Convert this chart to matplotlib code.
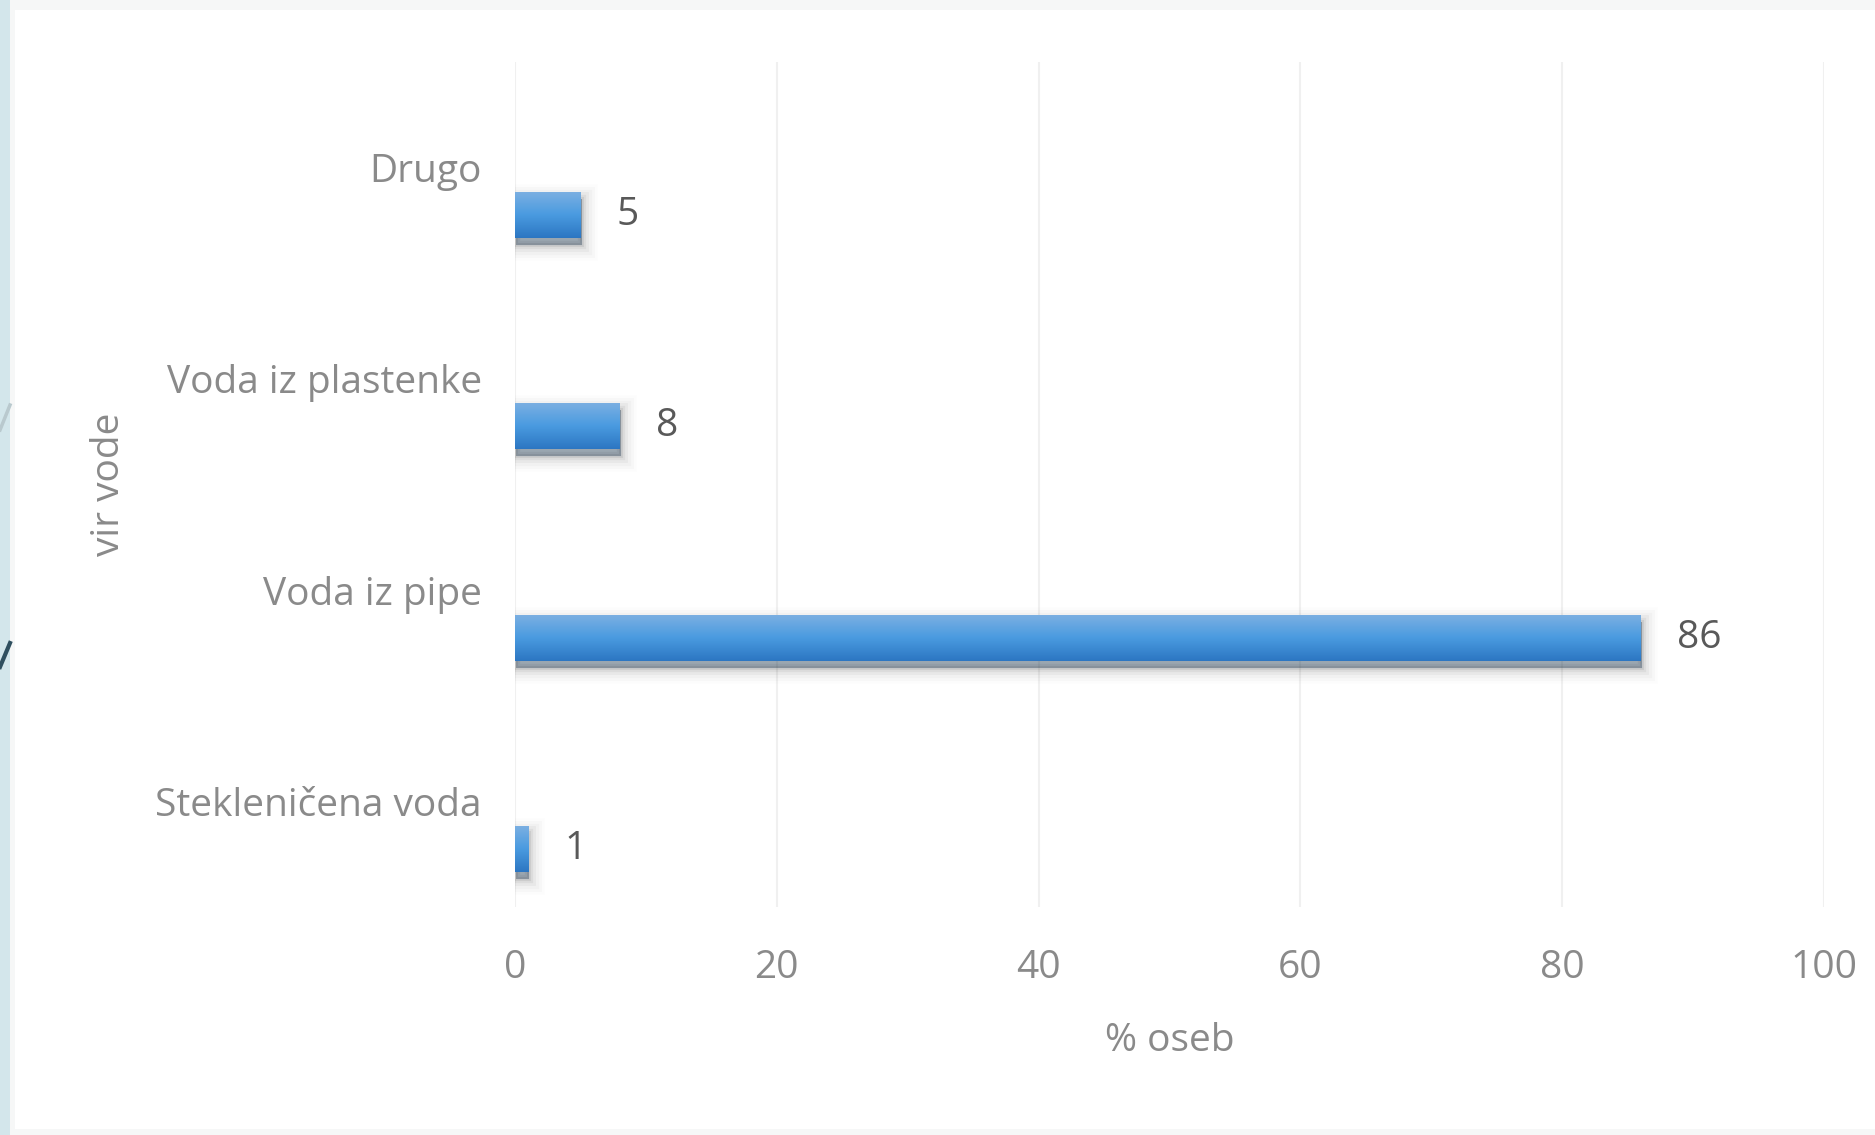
import matplotlib
matplotlib.use("Agg")
import matplotlib.pyplot as plt
import matplotlib.patheffects as pe
from matplotlib.patches import Rectangle
from matplotlib.lines import Line2D
from matplotlib.colors import LinearSegmentedColormap
import numpy as np

# ---- data ----
categories = ["Stekleničena voda", "Voda iz pipe", "Voda iz plastenke", "Drugo"]
values = [1, 86, 8, 5]
x_ticks = [0, 20, 40, 60, 80, 100]
x_label = "% oseb"
y_label = "vir vode"

plt.rcParams['font.family'] = ['Open Sans', 'DejaVu Sans']
FS = 28

W, H = 1875, 1135
fig = plt.figure(figsize=(W / 100, H / 100), dpi=100)
fig.patch.set_facecolor('#F6F7F7')

# white panel
fig.patches.append(Rectangle((15 / W, 1 - 1129 / H), 1 - 15 / W, (1129 - 10) / H,
                             transform=fig.transFigure, facecolor='white',
                             edgecolor='none', zorder=-3))
# left blue strip with decoration
fig.patches.append(Rectangle((0, 0), 10 / W, 1, transform=fig.transFigure,
                             facecolor='#D3E6EB', edgecolor='none', zorder=-3))
fig.lines.append(Line2D([0, 10 / W], [1 - 430 / H, 1 - 405 / H], transform=fig.transFigure,
                        color='#B9C9CE', lw=2.5, zorder=-2))
fig.lines.append(Line2D([0, 10 / W], [1 - 667 / H, 1 - 643 / H], transform=fig.transFigure,
                        color='#2F4F5F', lw=3, zorder=-2))

ax = fig.add_axes([515 / W, 1 - 907 / H, (1824 - 515) / W, (907 - 62) / H])
ax.set_facecolor('none')

bar_h = 0.218
offset = 0.225
ypos = np.arange(len(categories))
bars = ax.barh(ypos - offset, values, height=bar_h, color='#4A98DE', zorder=3)

cmap = LinearSegmentedColormap.from_list('g', ['#2C76C2', '#4A9BE0', '#7DB0E2'])
grad = np.linspace(0, 1, 256).reshape(-1, 1)
shadow_off = (1, -5)
effects = []
for lw_, a_ in [(22, 0.012), (18, 0.018), (14, 0.025), (10, 0.035), (6, 0.05), (3, 0.07)]:
    effects.append(pe.Stroke(offset=shadow_off, linewidth=lw_, foreground='black', alpha=a_))
effects.append(pe.SimplePatchShadow(offset=shadow_off, shadow_rgbFace='black', alpha=0.22))
effects.append(pe.Normal())
for b in bars:
    b.set_path_effects(effects)
    x0, y0, w, h = b.get_x(), b.get_y(), b.get_width(), b.get_height()
    im = ax.imshow(grad, cmap=cmap, extent=[x0, x0 + w, y0, y0 + h],
                   origin='lower', aspect='auto', zorder=4, interpolation='bicubic')
    im.set_clip_path(b)

for b, v in zip(bars, values):
    ax.annotate(str(v), xy=(b.get_x() + b.get_width(), b.get_y() + b.get_height() / 2),
                xytext=(36, 0), textcoords='offset pixels', ha='left', va='center',
                fontsize=FS, color='#595959', zorder=5)

ax.set_xlim(0, 100)
ax.set_ylim(-0.5, len(categories) - 0.5)
ax.set_xticks(x_ticks)
ax.set_yticks(ypos)
ax.set_yticklabels(categories)
ax.grid(axis='x', color='#F0F0F0', lw=1.5, zorder=0)
ax.set_axisbelow(True)
for s in ax.spines.values():
    s.set_visible(False)
ax.tick_params(axis='both', length=0, labelsize=FS, labelcolor='#8A8A8A')
ax.tick_params(axis='y', pad=24)
ax.tick_params(axis='x', pad=30.5)

ax.set_xlabel(x_label, fontsize=FS, color='#8A8A8A', labelpad=25)
ax.set_ylabel(y_label, fontsize=FS, color='#8A8A8A')
ax.yaxis.set_label_coords((128 - 515) / (1824 - 515), 0.5)

fig.savefig('out.png', dpi=100, facecolor=fig.get_facecolor())
